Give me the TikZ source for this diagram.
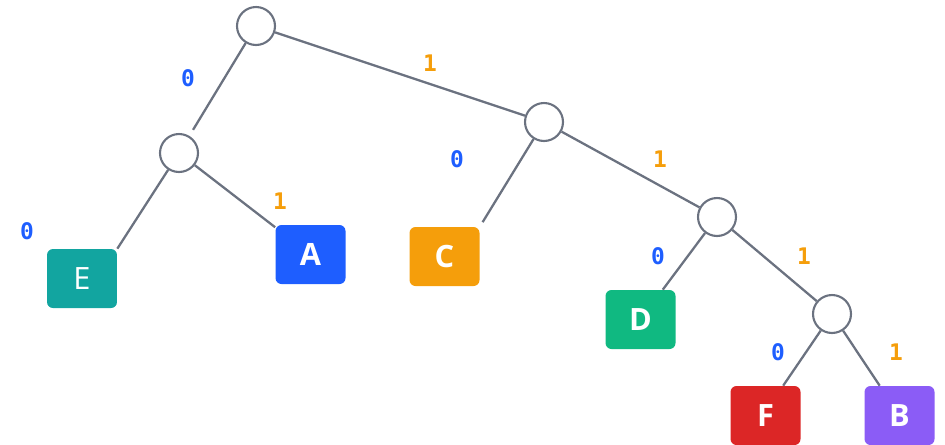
\documentclass[tikz,border=0pt]{standalone}
\usepackage{fontspec}
\setsansfont{Open Sans}
\setmonofont{DejaVu Sans Mono}
\usepackage{xcolor}
\usepackage{tikz}
\usetikzlibrary{calc}

\definecolor{edgegray}{HTML}{6B7280}
\definecolor{bitblue}{HTML}{1E5EFF}
\definecolor{bitorange}{HTML}{F59E0B}
\definecolor{leafE}{HTML}{12A5A0}
\definecolor{leafA}{HTML}{1E5EFF}
\definecolor{leafC}{HTML}{F59E0B}
\definecolor{leafD}{HTML}{10B981}
\definecolor{leafF}{HTML}{DC2626}
\definecolor{leafB}{HTML}{8B5CF6}

\begin{document}
\begin{tikzpicture}[x=0.02cm,y=-0.02cm,line join=round,
  inner/.style={circle,draw=edgegray,fill=white,line width=1.2pt,minimum size=0.76cm,inner sep=0pt},
  leaf/.style={rounded corners=3.4pt,minimum width=1.4cm,minimum height=1.18cm,inner sep=0pt,
    text=white,font=\sffamily\bfseries\fontsize{17.5}{20}\selectfont},
  branch/.style={draw=edgegray,line width=1.3pt},
  zero/.style={text=bitblue,font=\ttfamily\bfseries\fontsize{13}{15}\selectfont},
  one/.style={text=bitorange,font=\ttfamily\bfseries\fontsize{13}{15}\selectfont}]
  \useasboundingbox (0,0) rectangle (945,444);
  % internal nodes
  \node[inner] (R) at (256,26) {};
  \node[inner] (N1) at (179,153) {};
  \node[inner] (N2) at (544,122) {};
  \node[inner] (N3) at (717,217) {};
  \node[inner] (N4) at (832,314) {};
  % leaves
  \node[leaf,fill=leafE,font=\sffamily\fontsize{17.5}{20}\selectfont] (E) at (82,278.5) {E};
  \node[leaf,fill=leafA] (A) at (310.5,254.5) {A};
  \node[leaf,fill=leafC] (C) at (444.5,256.5) {C};
  \node[leaf,fill=leafD] (D) at (640.5,319.5) {D};
  \node[leaf,fill=leafF] (F) at (765.5,415.5) {F};
  \node[leaf,fill=leafB] (B) at (899.5,415.5) {B};
  % branches
  \draw[branch,shorten >=4pt] (R) -- (N1);
  \draw[branch] (R) -- (N2);
  \draw[branch] (N1) -- (E.north east);
  \draw[branch] (N1) -- (A);
  \draw[branch,shorten >=3pt] (N2) -- (C.north east);
  \draw[branch] (N2) -- (N3);
  \draw[branch] (N3) -- (D);
  \draw[branch] (N3) -- (N4);
  \draw[branch] (N4) -- ($(F.north)!0.5!(F.north east)$);
  \draw[branch] (N4) -- (B);
  % bit labels
  \node[zero] (b1) at (188,78) {0};
  \node[one] (b2) at (430,63) {1};
  \node[zero] (b3) at (27,231) {0};
  \node[one] (b4) at (280,201) {1};
  \node[zero] (b5) at (457,159) {0};
  \node[one] (b6) at (660,159) {1};
  \node[zero] (b7) at (658,256) {0};
  \node[one] (b8) at (804,256) {1};
  \node[zero] (b9) at (778,352) {0};
  \node[one] (b10) at (896,352) {1};
\end{tikzpicture}
\end{document}
